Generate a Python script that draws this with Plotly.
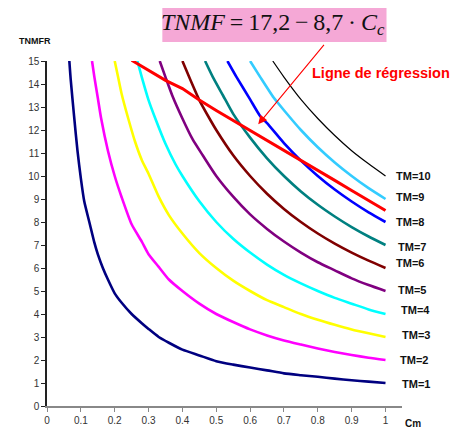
import plotly.graph_objects as go

# ---- data ----
tm1_x = [0.066, 0.07, 0.08, 0.09, 0.1, 0.11, 0.125, 0.14, 0.15, 0.165, 0.18, 0.2, 0.22, 0.25, 0.28, 0.3, 0.33, 0.36, 0.4, 0.45, 0.5, 0.55, 0.6, 0.65, 0.7, 0.75, 0.8, 0.85, 0.9, 0.95, 1.0]
tm1_y = [15, 14.2, 12.6, 11.1, 9.9, 8.9, 8.0, 7.1, 6.6, 6.0, 5.5, 4.9, 4.5, 4.0, 3.6, 3.35, 3.0, 2.75, 2.45, 2.2, 1.95, 1.8, 1.67, 1.55, 1.42, 1.34, 1.27, 1.19, 1.12, 1.06, 1.0]

tm2_x = [0.133, 0.14, 0.15, 0.16, 0.18, 0.2, 0.22, 0.25, 0.28, 0.3, 0.33, 0.36, 0.4, 0.45, 0.5, 0.55, 0.6, 0.65, 0.7, 0.75, 0.8, 0.85, 0.9, 0.95, 1.0]
tm2_y = [15, 14.3, 13.4, 12.5, 11.1, 10.0, 9.1, 7.9, 7.15, 6.6, 6.05, 5.5, 5.0, 4.45, 4.0, 3.65, 3.33, 3.07, 2.85, 2.67, 2.5, 2.35, 2.22, 2.1, 2.0]

tm3_x = [0.2, 0.21, 0.22, 0.24, 0.26, 0.28, 0.3, 0.33, 0.36, 0.4, 0.45, 0.5, 0.55, 0.6, 0.65, 0.7, 0.75, 0.8, 0.85, 0.9, 0.95, 1.0]
tm3_y = [15, 14.3, 13.6, 12.5, 11.5, 10.7, 10.1, 9.1, 8.3, 7.5, 6.65, 6.0, 5.45, 5.0, 4.6, 4.3, 4.0, 3.75, 3.53, 3.33, 3.16, 3.0]

tm4_x = [0.267, 0.28, 0.3, 0.32, 0.35, 0.38, 0.4, 0.45, 0.5, 0.55, 0.6, 0.65, 0.7, 0.75, 0.8, 0.85, 0.9, 0.95, 1.0]
tm4_y = [15, 14.3, 13.3, 12.5, 11.4, 10.5, 10.0, 8.9, 8.0, 7.27, 6.67, 6.15, 5.7, 5.33, 5.0, 4.7, 4.45, 4.2, 4.0]

tm5_x = [0.333, 0.35, 0.37, 0.4, 0.43, 0.46, 0.5, 0.55, 0.6, 0.65, 0.7, 0.75, 0.8, 0.85, 0.9, 0.95, 1.0]
tm5_y = [15, 14.3, 13.5, 12.5, 11.6, 10.9, 10.0, 9.1, 8.33, 7.7, 7.15, 6.67, 6.25, 5.9, 5.55, 5.26, 5.0]

tm6_x = [0.4, 0.42, 0.45, 0.48, 0.5, 0.55, 0.6, 0.65, 0.7, 0.75, 0.8, 0.85, 0.9, 0.95, 1.0]
tm6_y = [15, 14.3, 13.3, 12.5, 12.0, 10.9, 10.0, 9.23, 8.57, 8.0, 7.5, 7.06, 6.67, 6.32, 6.0]

tm7_x = [0.467, 0.49, 0.52, 0.55, 0.6, 0.65, 0.7, 0.75, 0.8, 0.85, 0.9, 0.95, 1.0]
tm7_y = [15, 14.3, 13.5, 12.7, 11.67, 10.77, 10.0, 9.33, 8.75, 8.24, 7.78, 7.37, 7.0]

tm8_x = [0.533, 0.56, 0.6, 0.63, 0.65, 0.7, 0.75, 0.8, 0.85, 0.9, 0.95, 1.0]
tm8_y = [15, 14.3, 13.33, 12.6, 12.3, 11.43, 10.67, 10.0, 9.41, 8.89, 8.42, 8.0]

tm9_x = [0.6, 0.63, 0.67, 0.7, 0.75, 0.8, 0.85, 0.9, 0.95, 1.0]
tm9_y = [15, 14.3, 13.4, 12.86, 12.0, 11.25, 10.59, 10.0, 9.47, 9.0]

tm10_x = [0.667, 0.7, 0.75, 0.8, 0.85, 0.9, 0.95, 1.0]
tm10_y = [15, 14.3, 13.33, 12.5, 11.76, 11.1, 10.53, 10.0]

reg_x = [0.25, 0.3, 0.35, 0.4, 0.45, 0.5, 0.55, 0.6, 0.65, 0.7, 0.75, 0.8, 0.85, 0.9, 0.95, 1.0]
reg_y = [15.03, 14.59, 14.16, 13.8, 13.3, 12.85, 12.42, 11.98, 11.55, 11.11, 10.68, 10.24, 9.81, 9.37, 8.94, 8.5]

series_names = ["TM=1", "TM=2", "TM=3", "TM=4", "TM=5", "TM=6", "TM=7", "TM=8", "TM=9", "TM=10"]
series_x = [tm1_x, tm2_x, tm3_x, tm4_x, tm5_x, tm6_x, tm7_x, tm8_x, tm9_x, tm10_x]
series_y = [tm1_y, tm2_y, tm3_y, tm4_y, tm5_y, tm6_y, tm7_y, tm8_y, tm9_y, tm10_y]
colors = ["#000080", "#FF00FF", "#FFFF00", "#00FFFF", "#800080", "#800000", "#008080", "#0000FF", "#33CCFF", "#000000"]
widths = [2.6, 2.6, 2.6, 2.6, 2.6, 2.6, 2.6, 2.6, 2.6, 1.2]
label_y = [0.94, 1.99, 3.07, 4.16, 5.03, 6.2, 6.91, 8.0, 9.09, 10.0]
label_x = [1.043, 1.037, 1.043, 1.04, 1.03, 1.025, 1.03, 1.025, 1.025, 1.025]

x_ticks = [0, 0.1, 0.2, 0.3, 0.4, 0.5, 0.6, 0.7, 0.8, 0.9, 1]
x_tick_text = ["0", "0.1", "0.2", "0.3", "0.4", "0.5", "0.6", "0.7", "0.8", "0.9", "1"]
y_ticks = list(range(0, 16))

# page offset of the plot div (default body margin)
OFF = 8
W, H = 459 - OFF, 428 - OFF
L, T, R, B = 46.5, 60.7, 402.0, 405.7   # plot area in window pixels
PW, PH = R - L, B - T

def px(x):
    return (x - L) / PW

def py(y):
    return (B - y) / PH

fig = go.Figure()
for name, xs, ys, c, w in zip(series_names, series_x, series_y, colors, widths):
    fig.add_trace(go.Scatter(x=xs, y=ys, mode="lines", name=name,
                             line=dict(color=c, width=w, shape="spline", smoothing=0.6),
                             showlegend=False))
fig.add_trace(go.Scatter(x=reg_x, y=reg_y, mode="lines", name="Ligne de régression",
                         line=dict(color="#FF0000", width=3), showlegend=False))

for name, lx, ly in zip(series_names, label_x, label_y):
    fig.add_annotation(x=lx, y=ly, xref="x", yref="y", text="<b>" + name + "</b>",
                       showarrow=False, xanchor="left", yanchor="middle",
                       font=dict(family="Liberation Sans", size=11, color="#111"))

# formula box
fig.add_shape(type="rect", xref="paper", yref="paper",
              x0=px(162), x1=px(386.5), y0=py(41.7), y1=py(5),
              fillcolor="#F5A8D6", line=dict(width=0), layer="above")
fig.add_annotation(xref="paper", yref="paper", x=px(273), y=py(23.5),
                   text="<i>TNMF</i>\u2009=\u200917,2\u2009\u2212\u20098,7\u2009·\u2009<i>C</i><sub><i>c</i></sub>",
                   showarrow=False, xanchor="center", yanchor="middle",
                   font=dict(family="Liberation Serif", size=24, color="#111"))

# regression label and arrow
fig.add_annotation(xref="paper", yref="paper", x=px(310), y=py(73),
                   text="<b>Ligne de régression</b>", showarrow=False,
                   xanchor="left", yanchor="middle",
                   font=dict(family="Liberation Sans", size=14.5, color="#FF0000"))
fig.add_annotation(xref="paper", yref="paper", x=px(258), y=py(124),
                   ax=67, ay=-81, axref="pixel", ayref="pixel", text="",
                   showarrow=True, arrowhead=2, arrowsize=1.6, arrowwidth=1.1,
                   arrowcolor="#FF0000")

# axis titles
fig.add_annotation(xref="paper", yref="paper", x=px(16), y=py(41),
                   text="<b>TNMFR</b>", showarrow=False, xanchor="left", yanchor="middle",
                   font=dict(family="Liberation Sans", size=9, color="#111"))
fig.add_annotation(xref="paper", yref="paper", x=px(403), y=py(423),
                   text="<b>Cm</b>", showarrow=False, xanchor="left", yanchor="middle",
                   font=dict(family="Liberation Sans", size=10, color="#111"))

fig.update_layout(
    width=W, height=H,
    margin=dict(l=L - OFF, r=459 - R, t=T - OFF, b=428 - B, autoexpand=False),
    paper_bgcolor="white", plot_bgcolor="white",
    xaxis=dict(range=[0, 1.0487], tickvals=x_ticks, ticktext=x_tick_text,
               showgrid=False, zeroline=False, showline=True, linecolor="#888",
               linewidth=1.5, ticks="outside", ticklen=4, tickcolor="#888",
               tickfont=dict(family="Liberation Sans", size=10, color="#333")),
    yaxis=dict(range=[0, 15], tickvals=y_ticks, showgrid=False, zeroline=False,
               showline=True, linecolor="#222", linewidth=1.5, ticks="outside",
               ticklen=4, tickcolor="#222",
               tickfont=dict(family="Liberation Sans", size=10, color="#333")),
)

fig.write_html("out.html")
